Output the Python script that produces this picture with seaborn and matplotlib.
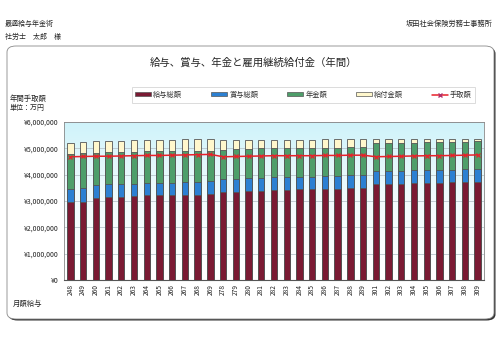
import numpy as np
import pandas as pd
import matplotlib
matplotlib.use("Agg")
import matplotlib.pyplot as plt
import seaborn as sns
from matplotlib.patches import FancyBboxPatch, Patch
from matplotlib.lines import Line2D
from matplotlib.ticker import FuncFormatter, MultipleLocator
from matplotlib.colors import LinearSegmentedColormap

# ---------------- data (yen) ----------------
months = ["248", "249", "260", "261", "262", "263", "264", "265", "266", "267",
          "268", "269", "278", "279", "280", "281", "282", "283", "284", "285",
          "286", "287", "288", "289", "301", "302", "303", "304", "305", "306",
          "307", "308", "309"]
salary = [2950, 2970, 3130, 3140, 3160, 3180, 3210, 3210, 3230, 3240,
          3240, 3250, 3330, 3350, 3370, 3390, 3420, 3420, 3440, 3440,
          3460, 3470, 3490, 3490, 3630, 3630, 3650, 3670, 3670, 3700,
          3710, 3720, 3720]
bonus = [510, 510, 480, 490, 470, 460, 460, 460, 470, 470,
         490, 510, 500, 490, 490, 500, 480, 500, 490, 490,
         490, 480, 480, 480, 500, 510, 500, 490, 490, 480,
         480, 480, 480]
pension = [1330, 1330, 1230, 1220, 1240, 1230, 1240, 1220, 1190, 1180,
           1170, 1150, 1110, 1130, 1120, 1110, 1100, 1080, 1080, 1090,
           1070, 1080, 1070, 1070, 1060, 1050, 1070, 1060, 1070, 1050,
           1060, 1050, 1070]
benefit = [420, 430, 430, 430, 420, 430, 410, 430, 430, 460,
           450, 430, 380, 350, 340, 320, 320, 320, 310, 310,
           320, 310, 330, 330, 150, 150, 150, 150, 140, 140,
           120, 120, 100]
takehome = [4680, 4690, 4700, 4700, 4710, 4720, 4730, 4730, 4740, 4750,
            4760, 4770, 4680, 4690, 4700, 4710, 4720, 4720, 4720, 4720,
            4730, 4730, 4740, 4740, 4680, 4690, 4700, 4710, 4720, 4720,
            4730, 4740, 4750]
series_names = ["給与総額", "賞与総額", "年金額", "給付金額", "手取額"]

K = 1000
df = pd.DataFrame({
    "month": months,
    "salary": np.array(salary) * K,
    "bonus": np.array(bonus) * K,
    "pension": np.array(pension) * K,
    "benefit": np.array(benefit) * K,
    "takehome": np.array(takehome) * K,
})
df["c_red"] = df["salary"]
df["c_blue"] = df["c_red"] + df["bonus"]
df["c_green"] = df["c_blue"] + df["pension"]
df["c_cream"] = df["c_green"] + df["benefit"]

# ---------------- style ----------------
sns.set_theme(style="white")
plt.rcParams["font.family"] = ["Noto Sans CJK JP", "DejaVu Sans"]

C_RED = "#7A1A33"
C_BLUE = "#2C80D2"
C_GREEN = "#4E9E6A"
C_CREAM = "#FFF7CC"
C_LINE = "#E8202A"
EDGE = "#555555"

W, H = 500, 339
fig = plt.figure(figsize=(W / 100, H / 100), dpi=100)
fig.patch.set_facecolor("white")

# rounded panel with shadow
shadow = FancyBboxPatch((8.5 / W, 1 - 320.5 / H), 487 / W, 273 / H,
                        boxstyle="round,pad=0,rounding_size=0.018",
                        transform=fig.transFigure, facecolor="#333333",
                        edgecolor="none", zorder=-2)
panel = FancyBboxPatch((7 / W, 1 - 319 / H), 487 / W, 273 / H,
                       boxstyle="round,pad=0,rounding_size=0.018",
                       transform=fig.transFigure, facecolor="white",
                       edgecolor="#888888", linewidth=0.6, zorder=-1)
fig.patches.extend([shadow, panel])

# header texts
fig.text(5 / W, 1 - 24 / H, "最適給与年金術", fontsize=5, va="center", ha="left")
fig.text(5 / W, 1 - 37 / H, "社労士　太郎　様", fontsize=5, va="center", ha="left")
fig.text(493 / W, 1 - 24 / H, "坂田社会保険労務士事務所", fontsize=5.2,
         va="center", ha="right")
fig.text(253 / W, 1 - 63 / H, "給与、賞与、年金と雇用継続給付金（年間）",
         fontsize=7.5, va="center", ha="center")
fig.text(10 / W, 1 - 99 / H, "年間手取額", fontsize=5.3, va="center", ha="left")
fig.text(10 / W, 1 - 108 / H, "単位：万円", fontsize=5, va="center", ha="left")
fig.text(13 / W, 1 - 304 / H, "月額給与", fontsize=5.3, va="center", ha="left")

# axes
ax = fig.add_axes([64 / W, 1 - 280 / H, 420 / W, 158 / H])
ax.set_zorder(2)
ax.set_facecolor("white")

# gradient background (cyan -> white)
grad = np.linspace(0, 1, 256).reshape(-1, 1)
cmap = LinearSegmentedColormap.from_list("bg", ["#FFFFFF", "#F2FBFD", "#CFF3FA"])
ax.imshow(grad, aspect="auto", cmap=cmap, origin="lower",
          extent=[0, 1, 0, 1], transform=ax.transAxes, zorder=0)

order = months
bw = 0.5
for col, colr in [("c_cream", C_CREAM), ("c_green", C_GREEN),
                  ("c_blue", C_BLUE), ("c_red", C_RED)]:
    sns.barplot(data=df, x="month", y=col, order=order, color=colr,
                saturation=1, width=bw, edgecolor=EDGE, linewidth=0.6,
                ax=ax, zorder=3)

sns.pointplot(data=df, x="month", y="takehome", order=order, color=C_LINE,
              marker="x", markersize=2.5, linewidth=1.1, errorbar=None,
              ax=ax)
for ln in ax.lines:
    ln.set_zorder(5)
for coll in ax.collections:
    coll.set_zorder(6)

ax.set_ylim(0, 6000000)
ax.set_xlim(-0.5, len(months) - 0.5)
ax.yaxis.set_major_locator(MultipleLocator(1000000))
ax.yaxis.set_major_formatter(FuncFormatter(lambda v, p: "¥{:,.0f}".format(v)))
ax.grid(axis="y", color="#B8C4CC", linewidth=0.6, zorder=1)
ax.set_axisbelow(True)
ax.set_xlabel("")
ax.set_ylabel("")
ax.tick_params(axis="y", labelsize=5, length=0, pad=4, colors="#222222")
ax.tick_params(axis="x", labelsize=4.8, length=0, pad=3, rotation=90,
               colors="#222222")
for s in ["top", "right", "left"]:
    ax.spines[s].set_color("#888888")
    ax.spines[s].set_linewidth(0.6)
ax.spines["bottom"].set_color("#555555")
ax.spines["bottom"].set_linewidth(0.8)

# legend
handles = [
    Patch(facecolor=C_RED, edgecolor=EDGE, linewidth=0.5),
    Patch(facecolor=C_BLUE, edgecolor=EDGE, linewidth=0.5),
    Patch(facecolor=C_GREEN, edgecolor=EDGE, linewidth=0.5),
    Patch(facecolor=C_CREAM, edgecolor=EDGE, linewidth=0.5),
    Line2D([0], [0], color=C_LINE, linewidth=1.1, marker="x", markersize=2.5,
           markeredgecolor="#B0306A"),
]
leg = fig.legend(handles, series_names, ncol=5, loc="center",
                 bbox_to_anchor=(128 / W, 1 - 105 / H, 351 / W, 20 / H),
                 mode="expand", frameon=True, fancybox=False, fontsize=5.2,
                 handlelength=2.2, handleheight=0.5, handletextpad=0.3,
                 borderpad=0.5, columnspacing=1.0)
leg.get_frame().set_edgecolor("#CCCCCC")
leg.get_frame().set_linewidth(0.6)
for t in leg.get_texts():
    t.set_color("#333333")

fig.savefig("out.png", dpi=100, facecolor="white")
